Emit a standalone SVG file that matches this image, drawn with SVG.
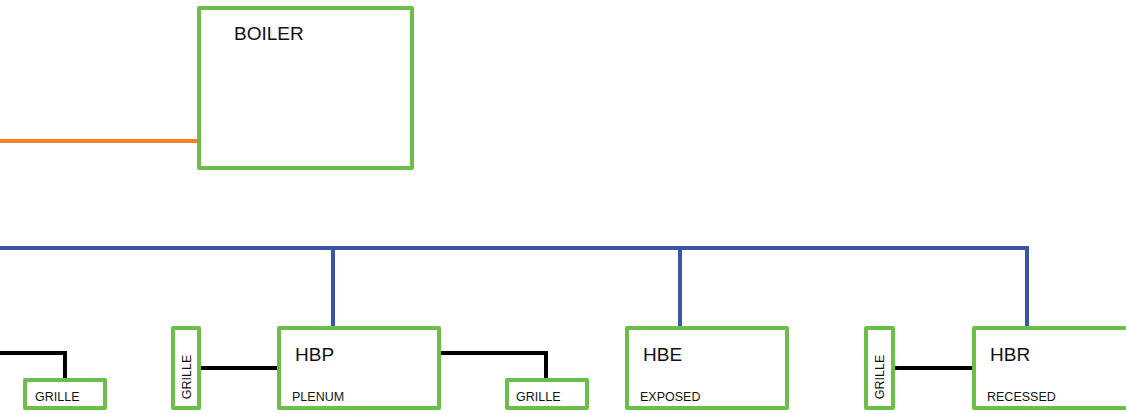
<svg xmlns="http://www.w3.org/2000/svg" width="1126" height="413" viewBox="0 0 1126 413">
<style>
.box{fill:#fff;stroke:#6abf4b;stroke-width:4;stroke-linejoin:round}
.t{font-family:"Liberation Sans",Arial,sans-serif;fill:#111}
.big{font-size:19px}
.small{font-size:12.5px}
.blk{fill:none;stroke:#000;stroke-width:4}
.blu{fill:none;stroke:#3a55a4;stroke-width:4}
.org{fill:none;stroke:#f58220;stroke-width:4}
</style>
<rect width="1126" height="413" fill="#fff"/>
<g id="connectors">
<line class="org" x1="0" y1="141" x2="199" y2="141"/>
<line class="blu" x1="0" y1="248" x2="1029" y2="248"/>
<line class="blu" x1="333" y1="248" x2="333" y2="328"/>
<line class="blu" x1="680" y1="248" x2="680" y2="328"/>
<line class="blu" x1="1027" y1="248" x2="1027" y2="328"/>
<polyline class="blk" points="0,353 65,353 65,380"/>
<line class="blk" x1="199" y1="368" x2="279" y2="368"/>
<polyline class="blk" points="439,353 546,353 546,380"/>
<line class="blk" x1="893" y1="368" x2="974" y2="368"/>
</g>
<g id="boiler">
<rect class="box" x="199" y="8" width="213" height="160"/>
<text class="t big" x="234" y="40">BOILER</text>
</g>
<g id="grille1">
<rect class="box" x="25" y="380" width="80" height="28"/>
<text class="t small" x="35" y="401">GRILLE</text>
</g>
<g id="grille2">
<rect class="box" x="173" y="328" width="26" height="80"/>
<text class="t small" transform="translate(191,377) rotate(-90)" text-anchor="middle">GRILLE</text>
</g>
<g id="hbp">
<rect class="box" x="279" y="328" width="160" height="80"/>
<text class="t big" x="295" y="361">HBP</text>
<text class="t small" x="292" y="401">PLENUM</text>
</g>
<g id="grille3">
<rect class="box" x="507" y="380" width="80" height="28"/>
<text class="t small" x="516" y="401">GRILLE</text>
</g>
<g id="hbe">
<rect class="box" x="627" y="328" width="160" height="80"/>
<text class="t big" x="643" y="361">HBE</text>
<text class="t small" x="640" y="401">EXPOSED</text>
</g>
<g id="grille4">
<rect class="box" x="866" y="328" width="27" height="80"/>
<text class="t small" transform="translate(884,377) rotate(-90)" text-anchor="middle">GRILLE</text>
</g>
<g id="hbr">
<rect class="box" x="974" y="328" width="160" height="80"/>
<text class="t big" x="990" y="361">HBR</text>
<text class="t small" x="987" y="401">RECESSED</text>
</g>
</svg>
